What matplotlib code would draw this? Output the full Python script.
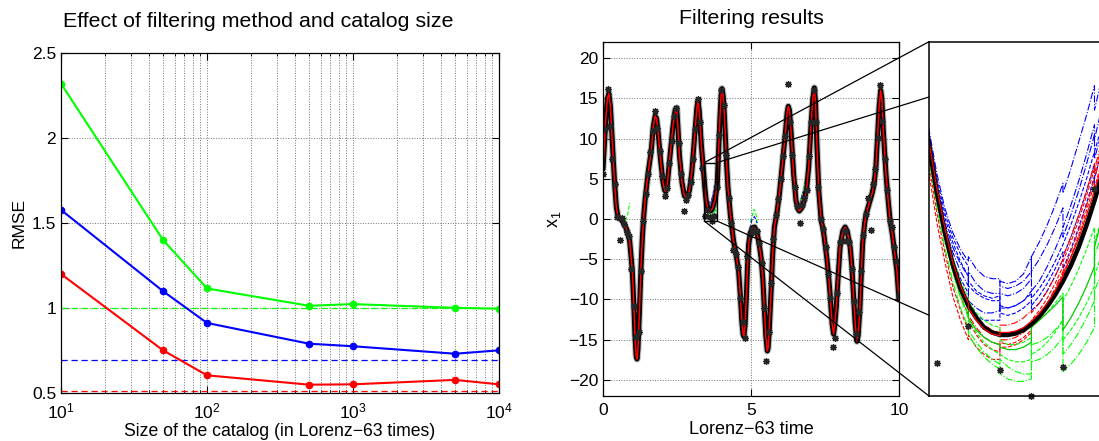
import numpy as np
import matplotlib
matplotlib.use('Agg')
import matplotlib.pyplot as plt
from matplotlib.patches import Rectangle, ConnectionPatch
from matplotlib.ticker import LogLocator, NullFormatter

plt.rcParams['font.family'] = ['Liberation Sans', 'DejaVu Sans']
plt.rcParams['mathtext.fontset'] = 'custom'
plt.rcParams['mathtext.rm'] = 'Liberation Sans'
plt.rcParams['mathtext.it'] = 'Liberation Sans:italic'

nan = np.nan

# ---- left panel: RMSE vs catalog size
catalog_size = [10, 50, 100, 500, 1000, 5000, 10000]
rmse_green = [2.32, 1.40, 1.115, 1.013, 1.023, 1.001, 0.996]
rmse_blue = [1.577, 1.099, 0.912, 0.790, 0.775, 0.731, 0.751]
rmse_red = [1.200, 0.751, 0.604, 0.549, 0.551, 0.577, 0.551]
ref_green = 1.0
ref_blue = 0.697
ref_red = 0.51

# ---- right panel: true x1 trajectory
true_t = [0.00, 0.05, 0.10, 0.15, 0.20, 0.25, 0.30, 0.35, 0.40, 0.45, 0.50, 0.55, 0.62, 0.70,
          0.79, 0.90, 0.99, 1.04, 1.08, 1.12, 1.15, 1.18, 1.21, 1.25, 1.29, 1.33, 1.38, 1.43,
          1.52, 1.63, 1.70, 1.76, 1.81, 1.87, 1.94, 2.03, 2.08, 2.12, 2.17, 2.26, 2.36, 2.44,
          2.49, 2.53, 2.58, 2.67, 2.75, 2.84, 2.92, 3.00, 3.10, 3.17, 3.21, 3.25, 3.32, 3.36,
          3.40, 3.42, 3.44, 3.46, 3.48, 3.50, 3.52, 3.54, 3.56, 3.58, 3.60, 3.62, 3.64, 3.66,
          3.68, 3.70, 3.72, 3.74, 3.76, 3.78, 3.80, 3.82, 3.84, 3.86, 3.90, 3.95, 3.99, 4.02,
          4.06, 4.10, 4.13, 4.18, 4.22, 4.30, 4.41, 4.50, 4.58, 4.64, 4.69, 4.73, 4.76, 4.80,
          4.84, 4.88, 4.92, 4.97, 5.05, 5.12, 5.20, 5.28, 5.34, 5.40, 5.45, 5.50, 5.55, 5.58,
          5.62, 5.68, 5.73, 5.79, 5.87, 5.96, 6.07, 6.16, 6.22, 6.26, 6.30, 6.35, 6.44, 6.52,
          6.58, 6.63, 6.70, 6.80, 6.88, 6.95, 7.03, 7.09, 7.14, 7.18, 7.22, 7.29, 7.37, 7.44,
          7.50, 7.56, 7.62, 7.67, 7.74, 7.79, 7.83, 7.88, 7.92, 8.01, 8.10, 8.18, 8.25, 8.35,
          8.41, 8.46, 8.52, 8.58, 8.62, 8.68, 8.73, 8.77, 8.84, 8.89, 9.02, 9.10, 9.16, 9.22,
          9.27, 9.33, 9.38, 9.42, 9.47, 9.52, 9.56, 9.63, 9.70, 9.78, 9.86, 9.93, 10.00]
true_x = [6.2, 9.5, 12.8, 15.0, 15.6, 14.0, 10.5, 7.2, 4.0, 1.5, 0.4, 0.1, -0.1, -0.5,
          -1.2, -2.7, -6.4, -10.5, -14.5, -17.0, -17.4, -16.2, -13.5, -9.5, -5.5, -2.3, 0.6, 2.7,
          5.6, 8.5, 11.5, 12.8, 12.5, 10.5, 7.5, 4.5, 3.6, 3.4, 4.2, 7.7, 11.4, 13.6,
          13.8, 11.5, 8.0, 4.5, 2.9, 2.6, 3.6, 5.8, 10.6, 13.8, 14.7, 13.5, 9.3, 7.6,
          5.9, 4.9, 3.9, 3.1, 2.45, 1.95, 1.6, 1.35, 1.15, 1.05, 1.0, 1.0, 1.03, 1.1,
          1.22, 1.38, 1.58, 1.82, 2.1, 2.42, 2.8, 3.25, 3.75, 4.3, 8.0, 12.5, 15.4, 16.2,
          15.3, 13.0, 10.5, 6.5, 4.0, 0.6, -2.7, -4.5, -6.4, -9.5, -12.7, -14.3, -14.6, -13.2,
          -10.0, -6.0, -3.2, -1.8, -1.1, -1.0, -1.6, -3.2, -4.8, -7.5, -11.0, -14.5, -16.4, -16.0,
          -13.5, -8.9, -4.5, -1.0, 0.6, 3.1, 7.3, 10.6, 13.2, 14.0, 13.5, 11.0, 5.6, 2.3,
          1.3, 1.0, 1.3, 2.3, 3.8, 6.5, 11.8, 15.0, 16.3, 14.5, 9.8, 3.5, -0.2, -1.3,
          -3.0, -4.8, -7.0, -9.3, -13.0, -14.3, -13.2, -11.0, -8.5, -3.5, -1.5, -1.0, -1.5, -3.5,
          -6.0, -9.3, -13.0, -15.2, -14.5, -11.0, -6.5, -3.1, -0.5, 0.6, 2.3, 3.3, 4.4, 6.5,
          9.8, 14.0, 16.0, 15.0, 11.0, 8.0, 5.6, 2.5, -0.2, -2.0, -4.4, -6.5, -10.0]

# noisy observations, every 0.08 time units
obs_t = [0.00, 0.08, 0.16, 0.24, 0.32, 0.40, 0.48, 0.56, 0.64, 0.72, 0.80, 0.88, 0.96, 1.04,
         1.12, 1.20, 1.28, 1.36, 1.44, 1.52, 1.60, 1.68, 1.76, 1.84, 1.92, 2.00, 2.08, 2.16,
         2.24, 2.32, 2.40, 2.48, 2.56, 2.64, 2.72, 2.80, 2.88, 2.96, 3.04, 3.12, 3.20, 3.28,
         3.36, 3.44, 3.52, 3.60, 3.68, 3.76, 3.84, 3.92, 4.00, 4.08, 4.16, 4.24, 4.32, 4.40,
         4.48, 4.56, 4.64, 4.72, 4.80, 4.88, 4.96, 5.04, 5.12, 5.20, 5.28, 5.36, 5.44, 5.52,
         5.60, 5.68, 5.76, 5.84, 5.92, 6.00, 6.08, 6.16, 6.24, 6.32, 6.40, 6.48, 6.56, 6.64,
         6.72, 6.80, 6.88, 6.96, 7.04, 7.12, 7.20, 7.28, 7.36, 7.44, 7.52, 7.60, 7.68, 7.76,
         7.84, 7.92, 8.00, 8.08, 8.16, 8.24, 8.32, 8.40, 8.48, 8.56, 8.64, 8.72, 8.80, 8.88,
         8.96, 9.04, 9.12, 9.20, 9.28, 9.36, 9.44, 9.52, 9.60, 9.68, 9.76, 9.84, 9.92, 10.00]
obs_x = [5.6, 11.2, 16.2, 11.5, 7.4, 4.3, 0.2, -2.6, 0.1, -0.6, -1.6, -2.1, -6.2, -10.8,
         -14.7, -14.0, -6.5, -0.3, 3.1, 5.6, 8.3, 11.0, 13.4, 11.3, 8.5, 5.3, 2.9, 3.9,
         6.9, 9.7, 12.8, 13.8, 9.5, 5.6, 1.0, 2.4, 3.0, 4.6, 7.4, 11.2, 14.9, 12.0,
         6.3, 0.42, 1.18, 0.29, -0.25, 0.35, 3.98, 10.5, 16.0, 14.2, 8.0, 2.6, -0.5, -3.9,
         -4.3, -6.0, -9.8, -12.8, -14.8, -4.6, -2.0, -1.3, -1.6, -1.5, -3.0, -5.5, -11.0, -17.7,
         -14.0, -8.0, -2.5, 0.5, 2.5, 5.0, 7.8, 10.3, 16.8, 12.0, 8.0, 4.0, 1.6, -0.5,
         1.8, 2.6, 3.6, 7.8, 12.1, 16.0, 12.0, 4.0, 0.0, -1.2, -3.5, -6.8, -9.8, -15.9,
         -14.8, -9.2, -2.8, -2.7, -1.5, -2.7, -2.9, -6.2, -10.2, -14.3, -11.5, -6.5, -2.0, 0.6,
         2.6, -1.4, 4.4, 6.2, 10.1, 16.7, 12.2, 7.5, 3.6, -0.3, -1.0, -3.5, -5.2, -9.5]

# ensemble members inside the zoomed window (repeated times = analysis jumps)
member_t = [3.40, 3.42, 3.44, 3.46, 3.48, 3.50, 3.52, 3.52, 3.54, 3.56, 3.58, 3.60, 3.60, 3.62, 3.64,
            3.66, 3.68, 3.68, 3.70, 3.72, 3.74, 3.76, 3.76, 3.78, 3.80, 3.82, 3.84, 3.84, 3.86]
blue_members = [
    [6.0, 5.0, 4.1, 3.4, 2.9, 2.5, 2.2, 2.0, 1.85, 1.75, 1.7, 1.7, 1.55, 1.55, 1.6, 1.7, 1.85, 1.75, 1.95, 2.2, 2.5, 2.85, 2.85, 3.25, 3.7, 4.2, 4.75, 4.75, 5.3],
    [5.8, 4.8, 3.9, 3.2, 2.7, 2.3, 2.0, 2.3, 2.05, 1.9, 1.85, 1.85, 2.1, 2.05, 2.1, 2.25, 2.6, 1.9, 2.1, 2.4, 2.75, 3.15, 3.0, 3.45, 3.95, 4.5, 5.1, 4.6, 5.2],
    [6.1, 5.1, 4.2, 3.5, 3.0, 2.65, 2.4, 2.1, 1.9, 1.8, 1.75, 1.8, 1.45, 1.4, 1.45, 1.55, 1.7, 1.6, 1.8, 2.05, 2.35, 2.7, 2.6, 3.0, 3.45, 3.95, 4.5, 4.2, 4.8],
    [5.9, 4.9, 4.0, 3.3, 2.8, 2.45, 2.2, 1.7, 1.55, 1.45, 1.45, 1.5, 1.85, 1.8, 1.85, 1.95, 2.15, 2.3, 2.55, 2.85, 3.2, 3.6, 3.2, 3.65, 4.15, 4.7, 5.3, 5.0, 5.7],
    [5.7, 4.7, 3.8, 3.1, 2.55, 2.15, 1.85, 1.6, 1.4, 1.3, 1.3, 1.3, 1.6, 1.55, 1.6, 1.7, 1.9, 1.5, 1.65, 1.9, 2.2, 2.55, 2.35, 2.75, 3.2, 3.7, 4.25, 3.9, 4.4],
    [6.2, 5.2, 4.3, 3.6, 3.1, 2.75, 2.5, 2.6, 2.35, 2.2, 2.15, 2.15, 2.0, 1.95, 2.0, 2.1, 2.3, 2.6, 2.9, 3.25, 3.65, 4.1, 3.9, 4.4, 4.95, 5.5, 6.1, 5.6, 6.3],
]
red_members = [
    [5.8, 4.8, 3.8, 3.0, 2.3, 1.8, 1.4, 1.4, 1.15, 0.95, 0.85, 0.8, 0.9, 0.9, 0.95, 1.05, 1.2, 1.2, 1.4, 1.65, 1.95, 2.3, 2.3, 2.7, 3.15, 3.65, 4.2, 4.2, 4.8],
    [5.5, 4.5, 3.5, 2.7, 2.0, 1.5, 1.1, 1.3, 1.0, 0.8, 0.7, 0.65, 0.85, 0.8, 0.85, 0.95, 1.1, 1.3, 1.5, 1.75, 2.05, 2.4, 2.5, 2.9, 3.35, 3.85, 4.4, 4.3, 4.9],
    [6.0, 5.0, 4.0, 3.2, 2.55, 2.05, 1.7, 1.6, 1.35, 1.2, 1.1, 1.05, 1.2, 1.2, 1.25, 1.35, 1.5, 1.45, 1.65, 1.9, 2.2, 2.55, 2.6, 3.0, 3.45, 3.95, 4.5, 4.4, 5.0],
    [5.3, 4.3, 3.3, 2.5, 1.8, 1.3, 0.9, 1.0, 0.75, 0.6, 0.5, 0.5, 0.75, 0.75, 0.8, 0.9, 1.05, 1.15, 1.35, 1.6, 1.9, 2.25, 2.2, 2.6, 3.05, 3.55, 4.1, 4.0, 4.6],
]
green_members = [
    [5.9, 4.9, 3.9, 3.05, 2.35, 1.8, 1.4, 1.3, 1.05, 0.85, 0.7, 0.6, 0.6, 0.5, 0.45, 0.45, 0.5, 1.15, 1.3, 1.45, 1.65, 1.85, 0.9, 1.1, 1.35, 1.65, 2.0, 2.9, 3.4],
    [5.6, 4.6, 3.6, 2.8, 2.1, 1.55, 1.15, 1.0, 0.75, 0.55, 0.4, 0.3, 0.5, 0.35, 0.25, 0.2, 0.2, 0.8, 0.85, 0.95, 1.1, 1.3, 0.6, 0.8, 1.05, 1.35, 1.7, 2.6, 3.1],
    [6.0, 5.0, 4.05, 3.25, 2.6, 2.1, 1.75, 1.7, 1.45, 1.3, 1.2, 1.15, 0.9, 0.8, 0.8, 0.85, 0.95, 0.6, 0.7, 0.85, 1.05, 1.3, 1.7, 2.0, 2.35, 2.75, 3.2, 2.2, 2.7],
    [5.7, 4.7, 3.75, 2.95, 2.3, 1.75, 1.35, 1.1, 0.85, 0.65, 0.5, 0.4, 0.2, 0.1, 0.05, 0.05, 0.1, 0.45, 0.5, 0.6, 0.75, 0.95, 0.25, 0.4, 0.6, 0.85, 1.15, 1.9, 2.3],
]
red_mean = [5.9, 4.95, 4.0, 3.2, 2.5, 2.0, 1.65, 1.55, 1.3, 1.12, 1.02, 0.98, 1.05, 1.05, 1.08, 1.15, 1.28, 1.28, 1.44, 1.65, 1.9, 2.2, 2.25, 2.58, 2.98, 3.45, 3.95, 3.95, 4.5]
green_mean = [5.85, 4.85, 3.85, 3.05, 2.4, 1.9, 1.5, 1.35, 1.1, 0.95, 0.85, 0.8, 0.75, 0.7, 0.7, 0.75, 0.85, 1.17, 1.3, 1.45, 1.6, 1.78, 1.1, 1.35, 1.65, 2.0, 2.4, 2.8, 3.4]

# spread of the ensembles visible in the full view
green_spread_t = [0.60, 0.68, 0.76, 0.84, 0.90, nan, 0.82, 0.88, 0.94, 1.00, nan, 4.98, 5.04, 5.10, 5.16, 5.22,
                  nan, 6.66, 6.72, 6.78, 6.84, 6.90, nan, 9.02, 9.08, 9.14, 9.20]
green_spread_x = [0.3, 0.0, -0.2, 0.6, 2.0, nan, -1.5, -2.5, -4.5, -6.8, nan, -0.4, 0.4, 1.2, 0.8, -0.6,
                  nan, 2.2, 3.0, 4.0, 5.0, 5.6, nan, 3.6, 2.2, 3.4, 5.2]
blue_spread_t = [0.62, 0.70, 0.78, 0.86, 0.92, nan, 4.96, 5.04, 5.12, 5.20, nan, 6.64, 6.70, 6.76, 6.82,
                 nan, 9.00, 9.08, 9.14]
blue_spread_x = [-0.6, -1.2, -2.0, -2.6, -3.0, nan, -1.2, 0.0, 0.3, -0.5, nan, 1.8, 2.6, 3.4, 2.8,
                 nan, 2.0, 3.0, 3.8]

zoom_t = [3.42, 3.85]
zoom_x = [-0.25, 7.0]

W, H = 1099, 441


def px_box(x0, y0, x1, y1):
    return [x0 / W, 1 - y1 / H, (x1 - x0) / W, (y1 - y0) / H]


fig = plt.figure(figsize=(W / 100, H / 100), dpi=100)

# ---------------- left panel
ax = fig.add_axes(px_box(61, 53, 499, 393))
ax.set_xscale('log')
ax.axhline(ref_green, color='#00ff00', ls='--', lw=0.9, dashes=(5, 3))
ax.axhline(ref_blue, color='#0000ff', ls='--', lw=0.9, dashes=(5, 3))
ax.axhline(ref_red, color='#ff0000', ls='--', lw=0.9, dashes=(5, 3))
ax.plot(catalog_size, rmse_green, '-o', color='#00ff00', lw=1.5, ms=4.5)
ax.plot(catalog_size, rmse_blue, '-o', color='#0000ff', lw=1.5, ms=4.5)
ax.plot(catalog_size, rmse_red, '-o', color='#ff0000', lw=1.5, ms=4.5)
ax.set_xlim(10, 1e4)
ax.set_ylim(0.5, 2.5)
ax.set_yticks([0.5, 1, 1.5, 2, 2.5])
ax.set_yticklabels(['0.5', '1', '1.5', '2', '2.5'])
ax.xaxis.set_minor_locator(LogLocator(base=10, subs=np.arange(2, 10)))
ax.xaxis.set_minor_formatter(NullFormatter())
ax.grid(True, which='both', axis='x', ls=':', color='0.45', lw=0.7)
ax.grid(True, which='major', axis='y', ls=':', color='0.45', lw=0.7)
ax.tick_params(which='major', direction='in', top=True, right=True, length=5, labelsize=12.5)
ax.tick_params(which='minor', direction='in', top=True, right=True, length=2.5)
ax.tick_params(axis='x', which='major', pad=6)
ax.set_xlabel('Size of the catalog (in Lorenz\u221263 times)', fontsize=12.7, labelpad=1)
ax.set_ylabel('RMSE', fontsize=12.5)
ax.set_title('Effect of filtering method and catalog size', fontsize=15.4, pad=19,
             x=(258 - 61) / 438)
for s in ax.spines.values():
    s.set_linewidth(0.9)

# ---------------- right panel
ax2 = fig.add_axes(px_box(603, 42, 899, 396))
ax2.plot(green_spread_t, green_spread_x, '--', color='#00ff00', lw=0.8)
ax2.plot(blue_spread_t, blue_spread_x, '--', color='#0000ff', lw=0.8)
for m in blue_members:
    ax2.plot(member_t, m, '--', color='#0000ff', lw=0.6)
for m in green_members:
    ax2.plot(member_t, m, '--', color='#00ff00', lw=0.6)
ax2.plot(true_t, true_x, color='0.5', lw=5.2, alpha=0.5, solid_capstyle='round')
ax2.plot(true_t, true_x, color='k', lw=3.6, solid_capstyle='round')
ax2.plot(true_t, true_x, color='#ff0000', lw=1.1)
ax2.plot(obs_t, obs_x, ls='none', marker=(8, 2, 0), ms=5, mew=0.9, color='0.15')
ax2.add_patch(Rectangle((zoom_t[0], zoom_x[0]), zoom_t[1] - zoom_t[0], zoom_x[1] - zoom_x[0],
                        fill=False, ec='k', lw=1.0, zorder=6))
ax2.set_xlim(0, 10)
ax2.set_ylim(-22, 22)
ax2.set_xticks([0, 5, 10])
ax2.set_yticks(range(-20, 21, 5))
ax2.grid(True, ls=':', color='0.45', lw=0.7)
ax2.tick_params(direction='in', top=True, right=True, length=5, labelsize=12.5)
ax2.tick_params(axis='x', pad=5)
ax2.set_xlabel('Lorenz\u221263 time', fontsize=13, labelpad=2)
ax2.set_ylabel('x$_1$', fontsize=13)
ax2.set_title('Filtering results', fontsize=15.4, pad=13)
for s in ax2.spines.values():
    s.set_linewidth(0.9)

# ---------------- zoomed inset
ax3 = fig.add_axes(px_box(929, 41.7, 1104, 396))
styles = ['--', '-.']
for i, m in enumerate(blue_members):
    ax3.plot(member_t, m, styles[i % 2], color='#0000ff', lw=0.8)
for i, m in enumerate(red_members):
    ax3.plot(member_t, m, styles[(i + 1) % 2], color='#ff0000', lw=0.8)
for i, m in enumerate(green_members):
    ax3.plot(member_t, m, styles[i % 2], color='#00ff00', lw=0.8)
ax3.plot(member_t, green_mean, '-', color='#00cc00', lw=0.9)
ax3.plot(true_t, true_x, color='k', lw=3.3)
ax3.plot(member_t, red_mean, '-', color='#ff0000', lw=0.9)
in_win = [(t, x) for t, x in zip(obs_t, obs_x) if zoom_t[0] <= t <= zoom_t[1]]
ax3.plot([p[0] for p in in_win], [p[1] for p in in_win], ls='none', marker=(8, 2, 0),
         ms=5, mew=0.9, color='0.15', clip_on=False)
ax3.set_xlim(zoom_t[0], zoom_t[0] + 175 / 394)
ax3.set_ylim(zoom_x[0], zoom_x[1])
ax3.set_xticks([])
ax3.set_yticks([])
for s in ax3.spines.values():
    s.set_linewidth(1.1)

# connector lines from the box to the inset
corners = [((zoom_t[0], zoom_x[1]), (0, 1)), ((zoom_t[1], zoom_x[1]), (0, 0.844)),
           ((zoom_t[1], zoom_x[0]), (0, 0.228)), ((zoom_t[0], zoom_x[0]), (0, 0))]
for a, b in corners:
    con = ConnectionPatch(xyA=a, coordsA=ax2.transData, xyB=b, coordsB=ax3.transAxes,
                          color='k', lw=0.9)
    fig.add_artist(con)

fig.savefig('out.png', dpi=100)
